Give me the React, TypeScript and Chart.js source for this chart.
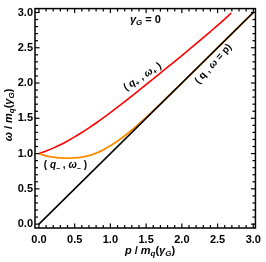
import React, { useEffect, useRef } from 'react';
import { Chart, registerables } from 'chart.js';

Chart.register(...registerables);

// ω+ branch (red)
const pPlus = [0, 0.1, 0.2, 0.3, 0.4, 0.5, 0.6, 0.7, 0.8, 0.9, 1.0, 1.2, 1.4, 1.6, 1.8, 2.0, 2.2, 2.4, 2.6, 2.69];
const omegaPlus = [1.0, 1.035, 1.077, 1.125, 1.178, 1.236, 1.298, 1.364, 1.433, 1.505, 1.58, 1.735, 1.895, 2.06, 2.225, 2.39, 2.56, 2.73, 2.905, 2.99];

// ω- branch (orange)
const pMinus = [0, 0.1, 0.2, 0.3, 0.4, 0.5, 0.6, 0.7, 0.8, 0.9, 1.0, 1.1, 1.2, 1.3, 1.4, 1.5, 1.6, 1.8, 2.0, 2.5, 3.0];
const omegaMinus = [1.0, 0.969, 0.949, 0.938, 0.935, 0.938, 0.949, 0.971, 1.007, 1.053, 1.11, 1.177, 1.252, 1.335, 1.421, 1.513, 1.607, 1.802, 2.0, 2.5, 3.0];

// light cone ω = p (black)
const pLight = [0, 3];
const omegaLight = [0, 3];

const xTickLabels = [0, 0.5, 1.0, 1.5, 2.0, 2.5, 3.0];
const yTickLabels = [0, 0.5, 1.0, 1.5, 2.0, 2.5, 3.0];

const FAM = '"Liberation Sans", Arial, sans-serif';
const B = (s: number) => `bold ${s}px ${FAM}`;
const BI = (s: number) => `italic bold ${s}px ${FAM}`;

type Seg = { t: string; font: string; dy?: number };

function drawRich(ctx: CanvasRenderingContext2D, segs: Seg[], cx: number, cy: number, angle: number) {
  ctx.save();
  ctx.translate(cx, cy);
  ctx.rotate(angle);
  let w = 0;
  for (const s of segs) {
    ctx.font = s.font;
    w += ctx.measureText(s.t).width;
  }
  let xx = -w / 2;
  ctx.textBaseline = 'middle';
  ctx.textAlign = 'left';
  ctx.fillStyle = '#000';
  for (const s of segs) {
    ctx.font = s.font;
    ctx.fillText(s.t, xx, s.dy || 0);
    xx += ctx.measureText(s.t).width;
  }
  ctx.restore();
}

const framePlugin = {
  id: 'framePlugin',
  afterDraw(chart: any) {
    const { ctx, chartArea: a, scales } = chart;
    const x = scales.x;
    const y = scales.y;
    ctx.save();
    ctx.strokeStyle = '#000';
    ctx.lineWidth = 1.5;
    ctx.strokeRect(a.left, a.top, a.right - a.left, a.bottom - a.top);
    ctx.lineWidth = 1.2;
    const line = (x1: number, y1: number, x2: number, y2: number) => {
      ctx.beginPath();
      ctx.moveTo(x1, y1);
      ctx.lineTo(x2, y2);
      ctx.stroke();
    };
    for (let i = 0; i <= 30; i++) {
      const v = i / 10;
      const len = i % 5 === 0 ? 4.5 : 3;
      const px = x.getPixelForValue(v);
      line(px, a.bottom, px, a.bottom - len);
      line(px, a.top, px, a.top + len);
      const py = y.getPixelForValue(v);
      line(a.left, py, a.left + len, py);
      line(a.right, py, a.right - len, py);
    }
    ctx.restore();

    // axis titles
    const xt: Seg[] = [
      { t: 'p', font: BI(11) },
      { t: ' / ', font: B(11) },
      { t: 'm', font: BI(11) },
      { t: 'q', font: BI(8), dy: 3 },
      { t: '(', font: B(11) },
      { t: 'γ', font: BI(11) },
      { t: 'G', font: BI(8), dy: 3 },
      { t: ')', font: B(11) },
    ];
    drawRich(ctx, xt, 150, 251, 0);
    const yt: Seg[] = [
      { t: 'ω', font: BI(11) },
      { t: ' / ', font: B(11) },
      { t: 'm', font: BI(11) },
      { t: 'q', font: BI(8), dy: 3 },
      { t: '(', font: B(11) },
      { t: 'γ', font: BI(11) },
      { t: 'G', font: BI(8), dy: 3 },
      { t: ')', font: B(11) },
    ];
    drawRich(ctx, yt, 9, 115, -Math.PI / 2);

    // annotations (anchored through the scales)
    const P = (vx: number, vy: number) => [x.getPixelForValue(vx), y.getPixelForValue(vy)];
    let [ax, ay] = P(1.49, 2.89);
    drawRich(ctx, [
      { t: 'γ', font: BI(11) },
      { t: 'G', font: BI(8), dy: 3 },
      { t: ' = 0', font: B(11) },
    ], ax, ay, 0);

    [ax, ay] = P(1.45, 2.09);
    drawRich(ctx, [
      { t: '( ', font: B(10) },
      { t: 'q', font: BI(10) },
      { t: '+', font: B(7), dy: 3 },
      { t: ' , ', font: B(10) },
      { t: 'ω', font: BI(10) },
      { t: '+', font: B(7), dy: 3 },
      { t: ' )', font: B(10) },
    ], ax, ay, -33 * Math.PI / 180);

    [ax, ay] = P(2.44, 2.27);
    drawRich(ctx, [
      { t: '( ', font: B(10) },
      { t: 'q', font: B(10) },
      { t: ' , ', font: B(10) },
      { t: 'ω', font: BI(10) },
      { t: ' = ', font: B(10) },
      { t: 'p', font: B(10) },
      { t: ')', font: B(10) },
    ], ax, ay, -48 * Math.PI / 180);

    [ax, ay] = P(0.37, 0.83);
    drawRich(ctx, [
      { t: '( ', font: B(10) },
      { t: 'q', font: BI(10) },
      { t: '−', font: B(7), dy: 3 },
      { t: ' , ', font: B(10) },
      { t: 'ω', font: BI(10) },
      { t: '−', font: B(7), dy: 3 },
      { t: ' )', font: B(10) },
    ], ax, ay, 0);
  },
};

export default function App() {
  const ref = useRef<HTMLCanvasElement | null>(null);
  useEffect(() => {
    if (!ref.current) return;
    const mk = (ps: number[], ws: number[]) => ps.map((p, i) => ({ x: p, y: ws[i] }));
    const tickFont = { family: FAM, weight: 'bold' as const, size: 11 };
    const chart = new Chart(ref.current, {
      type: 'scatter',
      data: {
        datasets: [
          { data: mk(pLight, omegaLight), borderColor: '#000', borderWidth: 1.6, showLine: true, pointRadius: 0, order: 0 },
          { data: mk(pMinus, omegaMinus), borderColor: 'rgb(255,140,0)', borderWidth: 1.8, showLine: true, pointRadius: 0, order: 1, cubicInterpolationMode: 'monotone' },
          { data: mk(pPlus, omegaPlus), borderColor: 'rgb(255,0,0)', borderWidth: 1.6, showLine: true, pointRadius: 0, order: 2, cubicInterpolationMode: 'monotone' },
        ],
      },
      options: {
        responsive: false,
        animation: false,
        layout: { padding: { top: 3, right: 5, left: 0, bottom: 0 } },
        plugins: { legend: { display: false }, tooltip: { enabled: false } },
        scales: {
          x: {
            type: 'linear',
            min: -0.055,
            max: 3.03,
            grid: { display: false, drawTicks: false },
            border: { display: false },
            afterBuildTicks: (s: any) => { s.ticks = xTickLabels.map((v) => ({ value: v })); },
            afterFit: (s: any) => { s.height = 34; },
            ticks: { color: '#000', font: tickFont, padding: 5, autoSkip: false, maxRotation: 0, callback: (v: any) => Number(v).toFixed(1) },
          },
          y: {
            type: 'linear',
            min: -0.055,
            max: 3.055,
            grid: { display: false, drawTicks: false },
            border: { display: false },
            afterBuildTicks: (s: any) => { s.ticks = yTickLabels.map((v) => ({ value: v })); },
            afterFit: (s: any) => { s.width = 35; },
            ticks: { color: '#000', font: tickFont, padding: 2, autoSkip: false, callback: (v: any) => Number(v).toFixed(1) },
          },
        },
      },
      plugins: [framePlugin],
    } as any);
    return () => chart.destroy();
  }, []);
  return (
    <div style={{ position: 'absolute', left: 0, top: 0, width: 266, height: 262, background: '#fff' }}>
      <canvas ref={ref} width={266} height={262} style={{ width: 266, height: 262, display: 'block' }} />
    </div>
  );
}
